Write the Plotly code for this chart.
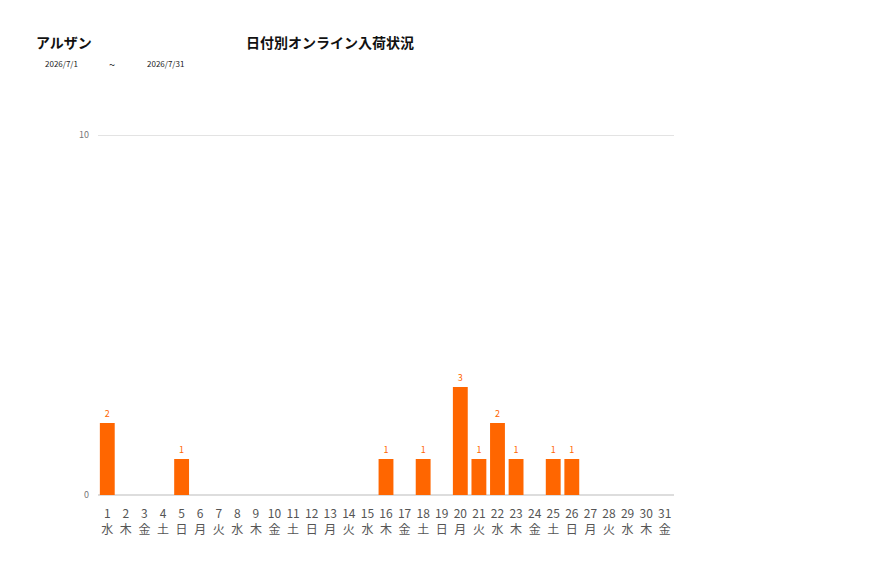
import plotly.graph_objects as go

# 2026年7月 日別オンライン入荷件数
days = [str(d) for d in range(1, 32)]
weekdays = ["水", "木", "金", "土", "日", "月", "火"] * 4 + ["水", "木", "金"]
counts = [2, 0, 0, 0, 1, 0, 0, 0, 0, 0, 0, 0, 0, 0, 0,
          1, 0, 1, 0, 3, 1, 2, 1, 0, 1, 1, 0, 0, 0, 0, 0]

store_name = "アルザン"
chart_title = "日付別オンライン入荷状況"
date_from = "2026/7/1"
date_to = "2026/7/31"

orange = "#ff6600"
font_family = "Noto Sans CJK JP, Noto Sans, sans-serif"

tick_text = [f"{d}<br>{w}" for d, w in zip(days, weekdays)]
labels = [str(c) if c > 0 else "" for c in counts]

fig = go.Figure()
fig.add_trace(go.Bar(
    x=days,
    y=counts,
    marker=dict(color=orange, line=dict(width=0)),
    text=labels,
    textposition="outside",
    textfont=dict(color=orange, size=9),
    cliponaxis=False,
    hoverinfo="x+y",
))

# page body adds an 8px margin, so the figure is laid out 8px up/left
fig.update_layout(
    width=877,
    height=578,
    margin=dict(l=90, r=211, t=121, b=91),
    paper_bgcolor="white",
    plot_bgcolor="white",
    font=dict(family=font_family, color="#555555"),
    showlegend=False,
    bargap=0.2,
)

fig.update_xaxes(
    tickmode="array",
    tickvals=days,
    ticktext=tick_text,
    tickfont=dict(size=12, color="#555555"),
    showgrid=False,
    showline=True,
    linecolor="#dddddd",
    linewidth=1,
    ticks="",
    ticklabelstandoff=8,
)
# a bit of headroom above 10 so its gridline is drawn
fig.update_yaxes(
    range=[0, 10.167],
    tickvals=[0, 10],
    tickfont=dict(size=9, color="#777777"),
    showgrid=True,
    gridcolor="#e3e3e3",
    gridwidth=1,
    zeroline=True,
    zerolinecolor="#dddddd",
    ticks="",
    ticklabelstandoff=8,
)

pw, ph = 576, 366
top = 129
fig.add_annotation(text=f"<b>{store_name}</b>", xref="paper", yref="paper",
                   x=(34 - 98) / pw, y=1 + (top - 42) / ph,
                   xanchor="left", yanchor="middle", showarrow=False,
                   font=dict(size=14, color="#111111"))
fig.add_annotation(text=f"<b>{chart_title}</b>", xref="paper", yref="paper",
                   x=(244 - 98) / pw, y=1 + (top - 42) / ph,
                   xanchor="left", yanchor="middle", showarrow=False,
                   font=dict(size=14, color="#111111"))
fig.add_annotation(text=date_from, xref="paper", yref="paper",
                   x=(43 - 98) / pw, y=1 + (top - 63) / ph,
                   xanchor="left", yanchor="middle", showarrow=False,
                   font=dict(size=8, color="#222222"))
fig.add_annotation(text="~", xref="paper", yref="paper",
                   x=(107 - 98) / pw, y=1 + (top - 64) / ph,
                   xanchor="left", yanchor="middle", showarrow=False,
                   font=dict(size=11, color="#222222"))
fig.add_annotation(text=date_to, xref="paper", yref="paper",
                   x=(145 - 98) / pw, y=1 + (top - 63) / ph,
                   xanchor="left", yanchor="middle", showarrow=False,
                   font=dict(size=8, color="#222222"))

fig.write_html("out.html")
